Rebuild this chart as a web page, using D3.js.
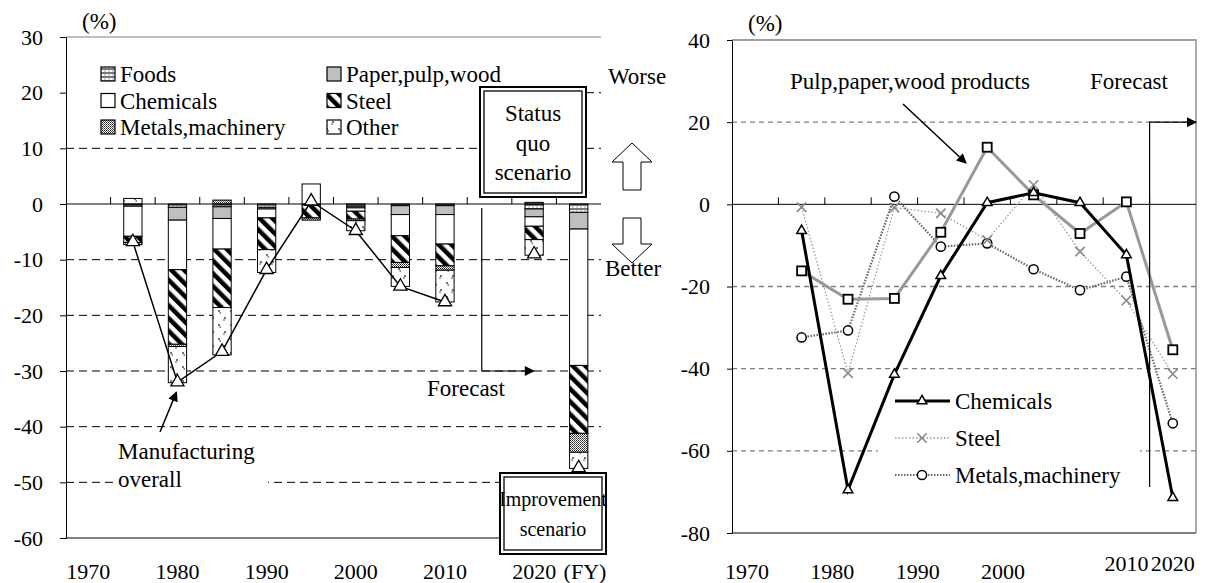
<!DOCTYPE html>
<html>
<head>
<meta charset="utf-8">
<script src="https://cdn.jsdelivr.net/npm/d3@7"></script>
<style>
  body { margin: 0; background: #fff; }
  svg { display: block; }
  text { fill: #000; font-family: 'Liberation Serif', 'Times New Roman', serif; }
</style>
</head>
<body>
<div id="chart"></div>
<script>
// left panel: contributions by sector (stacked bars) + manufacturing overall
const leftSlots = ['1970', '1975', '1980', '1985', '1990', '1995', '2000', '2005', '2010', '2015', '2020', '2020i'];
const barYears = ['1975', '1980', '1985', '1990', '1995', '2000', '2005', '2010', '2020', '2020i'];
const sectors = ['foods', 'paper', 'chemicals', 'steel', 'metals', 'other'];
const sectorNames = ['Foods', 'Paper,pulp,wood', 'Chemicals', 'Steel', 'Metals,machinery', 'Other'];
const foods = [-0.4, -0.6, -0.5, -0.6, -0.2, -0.4, -0.3, -0.3, -0.9, -1.5];
const paper = [0, -2.3, -2.1, -0.3, 0, -0.3, -1.6, -1.6, -1.4, -3.0];
const chemicals = [-5.4, -8.9, -5.5, -1.6, 3.6, -0.6, -3.8, -5.3, -1.7, -24.5];
const steel = [-1.1, -13.4, -10.5, -5.7, -2.3, -1.4, -4.8, -3.9, -2.4, -12.2];
const metals = [-0.4, -0.4, 0.7, 0, -0.4, -0.3, -0.9, -0.8, 0.3, -3.4];
const other = [1.0, -6.5, -8.5, -4.1, 0, -1.8, -3.4, -5.7, -2.8, -2.9];
const overall = [-6.8, -32.0, -26.5, -11.8, 0.5, -4.8, -14.8, -17.6, -9.0, -47.4];
const overallLinked = 8; // first 8 points are joined by a line
const leftTickLabels = ['1970', '1980', '1990', '2000', '2010', '2020'];
const leftYTicks = [30, 20, 10, 0, -10, -20, -30, -40, -50, -60];

// right panel: change by sector
const rightSlots = ['1970', '1975', '1980', '1985', '1990', '1995', '2000', '2005', '2010', '2020'];
const lineYears = ['1975', '1980', '1985', '1990', '1995', '2000', '2005', '2010', '2020'];
const chemLine = [-6.4, -69.5, -41.4, -17.4, 0.4, 2.8, 0.4, -12.3, -71.4];
const pulpLine = [-16.2, -23.1, -22.9, -6.8, 13.9, 2.3, -7.1, 0.6, -35.4];
const steelLine = [-0.7, -41.1, -0.8, -2.2, -8.7, 4.7, -11.5, -23.4, -41.3];
const metalsLine = [-32.4, -30.7, 1.9, -10.3, -9.5, -15.8, -20.9, -17.6, -53.3];
const rightTickLabels = ['1970', '1980', '1990', '2000'];
const rightTickLabelsEnd = ['2010', '2020'];
const rightYTicks = [40, 20, 0, -20, -40, -60, -80];

const FS = 23;
const TICK_FS = 22;

const svg = d3.select('#chart').append('svg')
  .attr('width', 1205)
  .attr('height', 583);

const defs = svg.append('defs');

function makePattern(id, w, h, draw, transform) {
  const p = defs.append('pattern')
    .attr('id', id)
    .attr('patternUnits', 'userSpaceOnUse')
    .attr('width', w)
    .attr('height', h);
  if (transform) p.attr('patternTransform', transform);
  p.append('rect').attr('width', w).attr('height', h).attr('fill', '#fff');
  draw(p);
}

makePattern('p-foods', 4, 4, (p) => {
  p.append('rect').attr('width', 4).attr('height', 2).attr('fill', '#7a7a7a');
  p.append('rect').attr('x', 0).attr('y', 2).attr('width', 2).attr('height', 2).attr('fill', '#d0d0d0');
});
makePattern('p-steel', 9, 9, (p) => {
  p.append('rect').attr('width', 4.5).attr('height', 9).attr('fill', '#000');
}, 'rotate(-45)');
makePattern('p-metals', 2, 2, (p) => {
  p.append('rect').attr('width', 1).attr('height', 1).attr('fill', '#222');
  p.append('rect').attr('x', 1).attr('y', 1).attr('width', 1).attr('height', 1).attr('fill', '#555');
});
makePattern('p-other', 12, 14, (p) => {
  p.append('circle').attr('cx', 3).attr('cy', 3).attr('r', 0.9).attr('fill', '#333');
  p.append('circle').attr('cx', 4.2).attr('cy', 5).attr('r', 0.8).attr('fill', '#333');
  p.append('circle').attr('cx', 9).attr('cy', 10).attr('r', 0.9).attr('fill', '#333');
  p.append('circle').attr('cx', 8).attr('cy', 12).attr('r', 0.8).attr('fill', '#333');
});

defs.append('marker')
  .attr('id', 'arrow')
  .attr('viewBox', '0 0 10 10')
  .attr('refX', 9)
  .attr('refY', 5)
  .attr('markerUnits', 'userSpaceOnUse')
  .attr('markerWidth', 13)
  .attr('markerHeight', 10)
  .attr('orient', 'auto')
  .append('path')
  .attr('d', 'M0,0 L10,5 L0,10 z')
  .attr('fill', '#000');

const sectorFill = {
  foods: 'url(#p-foods)',
  paper: '#bfbfbf',
  chemicals: '#fff',
  steel: 'url(#p-steel)',
  metals: 'url(#p-metals)',
  other: 'url(#p-other)',
};

function doubleBox(g, x, y, w, h) {
  g.append('rect').attr('x', x).attr('y', y).attr('width', w).attr('height', h)
    .attr('fill', '#fff').attr('stroke', '#000').attr('stroke-width', 2);
  g.append('rect').attr('x', x + 4).attr('y', y + 4).attr('width', w - 8).attr('height', h - 8)
    .attr('fill', 'none').attr('stroke', '#000').attr('stroke-width', 1.3);
}

function textLines(g, lines, cx, y0, step, size) {
  lines.forEach((t, i) => {
    g.append('text').text(t)
      .attr('x', cx).attr('y', y0 + i * step)
      .attr('text-anchor', 'middle')
      .attr('font-size', size || FS);
  });
}

function styleAxis(axisG) {
  axisG.attr('font-family', null).attr('font-size', null);
  axisG.select('.domain').attr('stroke', '#000');
  axisG.selectAll('.tick line').attr('stroke', '#000');
  axisG.selectAll('text').attr('font-size', TICK_FS).attr('fill', '#000');
}

// ---------------- left panel ----------------
const L = { x0: 66, x1: 601, y0: 37, y1: 538 };
const xL = d3.scaleBand().domain(leftSlots).range([L.x0, L.x1]);
const yL = d3.scaleLinear().domain([-60, 30]).range([L.y1, L.y0]);
const barW = xL.bandwidth() * 0.41;
const left = svg.append('g');

left.selectAll('.grid')
  .data(leftYTicks.filter((v) => v !== 0 && v !== 30 && v !== -60))
  .enter()
  .append('line')
  .attr('x1', L.x0).attr('x2', L.x1)
  .attr('y1', (d) => yL(d)).attr('y2', (d) => yL(d))
  .attr('stroke', '#000')
  .attr('stroke-dasharray', '8,5');

left.append('line')
  .attr('x1', L.x0).attr('x2', L.x1).attr('y1', L.y0).attr('y2', L.y0)
  .attr('stroke', '#808080');
left.append('line')
  .attr('x1', L.x0).attr('x2', L.x1).attr('y1', L.y1).attr('y2', L.y1)
  .attr('stroke', '#000');

// legend panel hides the upper grid
left.append('rect')
  .attr('x', L.x0 + 1).attr('y', L.y0 + 1).attr('width', 412).attr('height', 102)
  .attr('fill', '#fff');
// text box of the annotation hides part of the -50 grid
left.append('rect')
  .attr('x', 114).attr('y', 437).attr('width', 154).attr('height', 60)
  .attr('fill', '#fff');

const rows = barYears.map((year, i) => ({
  year,
  foods: foods[i],
  paper: paper[i],
  chemicals: chemicals[i],
  steel: steel[i],
  metals: metals[i],
  other: other[i],
}));
const stacked = d3.stack().keys(sectors).offset(d3.stackOffsetDiverging)(rows);

stacked.forEach((layer) => {
  left.append('g')
    .selectAll('rect')
    .data(layer.filter((d) => d[1] !== d[0]))
    .enter()
    .append('rect')
    .attr('x', (d) => xL(d.data.year) + (xL.bandwidth() - barW) / 2)
    .attr('y', (d) => yL(Math.max(d[0], d[1])))
    .attr('width', barW)
    .attr('height', (d) => Math.abs(yL(d[0]) - yL(d[1])))
    .attr('fill', sectorFill[layer.key])
    .attr('stroke', '#000')
    .attr('stroke-width', 1);
});

// zero line with category ticks
left.append('line')
  .attr('x1', L.x0).attr('x2', L.x1).attr('y1', yL(0)).attr('y2', yL(0))
  .attr('stroke', '#000');
left.selectAll('.xtick')
  .data(leftSlots.slice(1))
  .enter()
  .append('line')
  .attr('x1', (d) => xL(d)).attr('x2', (d) => xL(d))
  .attr('y1', yL(0)).attr('y2', yL(0) - 7)
  .attr('stroke', '#000');

const yAxisL = left.append('g')
  .attr('transform', `translate(${L.x0},0)`)
  .call(d3.axisLeft(yL).tickValues(leftYTicks).tickFormat((d) => `${d}`)
    .tickSize(6).tickSizeOuter(0).tickPadding(17));
styleAxis(yAxisL);

left.selectAll('.xlab')
  .data(leftTickLabels)
  .enter()
  .append('text')
  .text((d) => d)
  .attr('x', (d) => xL(d) + xL.bandwidth() / 2)
  .attr('y', 579)
  .attr('text-anchor', 'middle')
  .attr('font-size', TICK_FS);

// manufacturing overall
const overallPts = barYears.map((y, i) => [xL(y) + xL.bandwidth() / 2, yL(overall[i])]);
left.append('path')
  .attr('d', d3.line()(overallPts.slice(0, overallLinked)))
  .attr('fill', 'none')
  .attr('stroke', '#000')
  .attr('stroke-width', 1.5);
left.selectAll('.tri')
  .data(overallPts)
  .enter()
  .append('path')
  .attr('d', d3.symbol(d3.symbolTriangle, 75))
  .attr('transform', (d) => `translate(${d[0]},${d[1]})`)
  .attr('fill', '#fff')
  .attr('stroke', '#000')
  .attr('stroke-width', 1.3);

// legend
sectors.forEach((key, i) => {
  const col = i % 2;
  const row = Math.floor(i / 2);
  const sx = col === 0 ? 101 : 327;
  const cy = 74 + row * 26.5;
  left.append('rect')
    .attr('x', sx).attr('y', cy - 7).attr('width', 14).attr('height', 14)
    .attr('fill', sectorFill[key])
    .attr('stroke', '#000')
    .attr('stroke-width', 1.2);
  left.append('text').text(sectorNames[i])
    .attr('x', sx + 19).attr('y', cy + 8)
    .attr('font-size', FS);
});

left.append('text').text('(%)').attr('x', 82).attr('y', 29).attr('font-size', FS);

// scenario boxes and direction arrows
doubleBox(left, 480, 87, 106, 110);
textLines(left, ['Status', 'quo', 'scenario'], 533, 121, 29.5);
doubleBox(left, 500, 473, 106, 81);
textLines(left, ['Improvement', 'scenario'], 553, 506, 30, 20);
left.append('text').text('(FY)').attr('x', 585).attr('y', 579).attr('text-anchor', 'middle').attr('font-size', TICK_FS);

left.append('text').text('Worse').attr('x', 608).attr('y', 84).attr('font-size', FS);
left.append('text').text('Better').attr('x', 605).attr('y', 276).attr('font-size', FS);
left.append('polygon')
  .attr('points', '632,143 652,162 641,162 641,190 623,190 623,162 612,162')
  .attr('fill', '#fff').attr('stroke', '#000');
left.append('polygon')
  .attr('points', '612,244 623,244 623,218 641,218 641,244 652,244 632,263')
  .attr('fill', '#fff').attr('stroke', '#000');

// forecast marker
const fxL = xL('2015') + 14.5;
left.append('path')
  .attr('d', `M${fxL},208 V${yL(-30)} H${xL('2020') + 22}`)
  .attr('fill', 'none')
  .attr('stroke', '#000')
  .attr('stroke-width', 1.2)
  .attr('marker-end', 'url(#arrow)');
left.append('text').text('Forecast').attr('x', 466).attr('y', 396).attr('text-anchor', 'middle').attr('font-size', FS);

left.append('line')
  .attr('x1', 160).attr('y1', 432)
  .attr('x2', xL('1980') + xL.bandwidth() / 2 - 1).attr('y2', yL(overall[1]) + 10)
  .attr('stroke', '#000').attr('stroke-width', 1.5)
  .attr('marker-end', 'url(#arrow)');
left.append('text').text('Manufacturing').attr('x', 118).attr('y', 459).attr('font-size', FS);
left.append('text').text('overall').attr('x', 118).attr('y', 487).attr('font-size', FS);

// ---------------- right panel ----------------
const R = { x0: 732, x1: 1196, y0: 40, y1: 533 };
const xR = d3.scaleBand().domain(rightSlots).range([R.x0, R.x1]);
const yR = d3.scaleLinear().domain([-80, 40]).range([R.y1, R.y0]);
const cx = (y) => xR(y) + xR.bandwidth() / 2;
// the decade labels of the right axis sit on a slightly tighter spacing
const xRLabel = d3.scalePoint().domain(rightTickLabels).range([747, 1003]);
const right = svg.append('g');

right.selectAll('.grid')
  .data([20, -20, -40, -60])
  .enter()
  .append('line')
  .attr('x1', R.x0).attr('x2', R.x1)
  .attr('y1', (d) => yR(d)).attr('y2', (d) => yR(d))
  .attr('stroke', '#808080')
  .attr('stroke-width', 1.3)
  .attr('stroke-dasharray', '5,4');

right.append('path')
  .attr('d', `M${R.x0},${R.y0} H${R.x1} V${R.y1}`)
  .attr('fill', 'none')
  .attr('stroke', '#808080')
  .attr('stroke-width', 1.3);
right.append('line')
  .attr('x1', R.x0).attr('x2', R.x1).attr('y1', R.y1).attr('y2', R.y1)
  .attr('stroke', '#555').attr('stroke-width', 1.3);

// legend background
right.append('rect').attr('x', 878).attr('y', 383).attr('width', 262).attr('height', 108).attr('fill', '#fff');

right.append('line')
  .attr('x1', R.x0).attr('x2', R.x1).attr('y1', yR(0)).attr('y2', yR(0))
  .attr('stroke', '#000');
right.selectAll('.xtick')
  .data(rightSlots.slice(1))
  .enter()
  .append('line')
  .attr('x1', (d) => xR(d)).attr('x2', (d) => xR(d))
  .attr('y1', yR(0)).attr('y2', yR(0) - 7)
  .attr('stroke', '#000');

const yAxisR = right.append('g')
  .attr('transform', `translate(${R.x0},0)`)
  .call(d3.axisLeft(yR).tickValues(rightYTicks).tickFormat((d) => `${d}`)
    .tickSize(5).tickSizeOuter(0).tickPadding(17));
styleAxis(yAxisR);

right.selectAll('.xlab')
  .data(rightTickLabels)
  .enter()
  .append('text')
  .text((d) => d)
  .attr('x', (d) => xRLabel(d))
  .attr('y', 579)
  .attr('text-anchor', 'middle')
  .attr('font-size', TICK_FS);
right.selectAll('.xlab2')
  .data(rightTickLabelsEnd)
  .enter()
  .append('text')
  .text((d) => d)
  .attr('x', (d) => cx(d))
  .attr('y', 571)
  .attr('text-anchor', 'middle')
  .attr('font-size', TICK_FS);

right.append('text').text('(%)').attr('x', 748).attr('y', 31).attr('font-size', FS);

const line = d3.line().x((d) => cx(d.year)).y((d) => yR(d.v));
const asPts = (vals) => lineYears.map((year, i) => ({ year, v: vals[i] }));

const seriesR = [
  { key: 'metals', name: 'Metals,machinery', vals: metalsLine, stroke: '#666', width: 2.2, dash: '1.5,1.5', marker: 'circle' },
  { key: 'steel', name: 'Steel', vals: steelLine, stroke: '#999', width: 1.3, dash: '1.5,2', marker: 'cross' },
  { key: 'pulp', name: 'Pulp,paper,wood products', vals: pulpLine, stroke: '#999', width: 3, dash: null, marker: 'square' },
  { key: 'chem', name: 'Chemicals', vals: chemLine, stroke: '#000', width: 3, dash: null, marker: 'triangle' },
];

function drawMarker(g, kind, x, y) {
  if (kind === 'circle') {
    g.append('circle').attr('cx', x).attr('cy', y).attr('r', 4.6)
      .attr('fill', '#fff').attr('stroke', '#000').attr('stroke-width', 1.5);
  } else if (kind === 'square') {
    g.append('rect').attr('x', x - 4.5).attr('y', y - 4.5).attr('width', 9).attr('height', 9)
      .attr('fill', '#fff').attr('stroke', '#000').attr('stroke-width', 1.8);
  } else if (kind === 'triangle') {
    g.append('path').attr('d', d3.symbol(d3.symbolTriangle, 40))
      .attr('transform', `translate(${x},${y})`)
      .attr('fill', '#fff').attr('stroke', '#000').attr('stroke-width', 1.5);
  } else {
    g.append('path').attr('d', d3.symbol(d3.symbolX, 60))
      .attr('transform', `translate(${x},${y})`)
      .attr('fill', 'none').attr('stroke', '#888').attr('stroke-width', 1.6);
  }
}

seriesR.forEach((s) => {
  const g = right.append('g');
  g.append('path')
    .attr('d', line(asPts(s.vals)))
    .attr('fill', 'none')
    .attr('stroke', s.stroke)
    .attr('stroke-width', s.width)
    .attr('stroke-dasharray', s.dash);
  asPts(s.vals).forEach((p) => drawMarker(g, s.marker, cx(p.year), yR(p.v)));
});

// legend (pulp is labelled by annotation)
['chem', 'steel', 'metals'].forEach((key, i) => {
  const s = seriesR.find((d) => d.key === key);
  const y = 401 + i * 37;
  right.append('line')
    .attr('x1', 895).attr('x2', 950).attr('y1', y).attr('y2', y)
    .attr('stroke', s.stroke)
    .attr('stroke-width', s.width)
    .attr('stroke-dasharray', s.dash);
  drawMarker(right, s.marker, 922, y);
  right.append('text').text(s.name).attr('x', 955).attr('y', y + 8).attr('font-size', FS);
});

// forecast marker
const fxR = xR('2020');
right.append('path')
  .attr('d', `M${fxR},487 V${yR(20)} H${R.x1}`)
  .attr('fill', 'none')
  .attr('stroke', '#000')
  .attr('stroke-width', 1.2)
  .attr('marker-end', 'url(#arrow)');
right.append('text').text('Forecast').attr('x', 1129).attr('y', 89).attr('text-anchor', 'middle').attr('font-size', FS);

right.append('text').text('Pulp,paper,wood products').attr('x', 790).attr('y', 89).attr('font-size', FS);
right.append('line')
  .attr('x1', 903).attr('y1', 104).attr('x2', 966).attr('y2', 163)
  .attr('stroke', '#000').attr('stroke-width', 1.5)
  .attr('marker-end', 'url(#arrow)');
</script>
</body>
</html>
